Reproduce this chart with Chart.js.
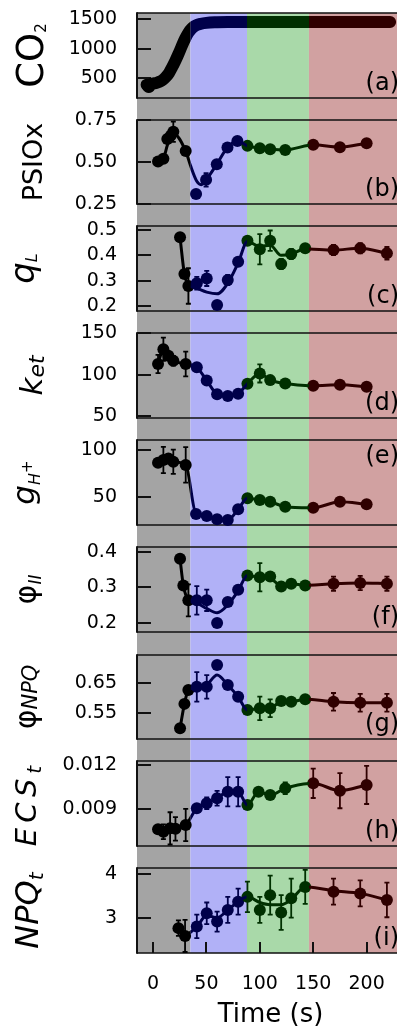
<!DOCTYPE html>
<html>
<head>
<meta charset="utf-8">
<title>Induction phases</title>
<script src="https://cdn.jsdelivr.net/npm/chart.js@4.4.1/dist/chart.umd.min.js"></script>
<style>
  html, body { margin: 0; padding: 0; background: #fff; overflow: hidden; }
  #wrap { position: relative; width: 420px; height: 1031px; }
  #wrap canvas { position: absolute; left: 0; }
</style>
</head>
<body>
<div id="wrap"></div>
<script>
// phase boundaries (s) and colours: dark, low light, high light, recovery
const phaseEdges = [35, 88, 146];
const bandColors = ['#a4a4a4', '#b1b1f7', '#a9d9a9', '#d1a1a1'];
const markColors = ['#000000', '#00004a', '#003000', '#300000'];

const xMin = -15, xMax = 235;
const xTicks = [0, 50, 100, 150, 200];

// (a) CO2 trace
const co2T = [-6, -4, -2, 0, 3, 6, 9, 12, 15, 18, 21, 24, 27, 30, 33, 36, 40, 45, 50, 60, 70, 90, 120, 150, 180, 222];
const co2V = [390, 350, 395, 410, 420, 440, 470, 520, 590, 690, 800, 920, 1050, 1170, 1270, 1340, 1395, 1425, 1440, 1450, 1455, 1455, 1455, 1455, 1455, 1455];
const co2Ticks = [500, 1000, 1500];
const co2Labels = ['500', '1000', '1500'];

// (b) PSIOx
const psiT = [4.7, 9.7, 13.4, 16.6, 19, 30.6, 40.3, 49.7, 59.7, 69.7, 79, 88.4, 100, 109.7, 123.8, 150, 175, 200];
const psiV = [0.503, 0.52, 0.637, 0.657, 0.68, 0.565, 0.309, 0.394, 0.487, 0.586, 0.625, 0.596, 0.582, 0.576, 0.572, 0.602, 0.588, 0.612];
const psiE = [0, 0, 0, 0.02, 0.06, 0, 0, 0.04, 0, 0, 0, 0, 0, 0, 0, 0, 0, 0];
const psiFitT = [4.7, 9.7, 13.4, 16.6, 19, 30.6, 35, 41, 45, 49.7, 59.7, 69.7, 79, 88.4, 100, 109.7, 123.8, 150, 175, 200];
const psiFitV = [0.503, 0.52, 0.6, 0.65, 0.67, 0.565, 0.48, 0.385, 0.365, 0.394, 0.487, 0.586, 0.625, 0.596, 0.582, 0.576, 0.572, 0.602, 0.588, 0.612];
const psiTicks = [0.25, 0.5, 0.75];
const psiLabels = ['0.25', '0.50', '0.75'];

// (c) qL
const qlT = [25.3, 29.4, 33.1, 41, 50.3, 60, 70, 79.7, 88.4, 100, 109.7, 120, 129.4, 142.5, 169, 194, 219];
const qlV = [0.471, 0.326, 0.279, 0.29, 0.309, 0.204, 0.303, 0.375, 0.458, 0.424, 0.458, 0.366, 0.405, 0.428, 0.421, 0.428, 0.408];
const qlE = [0, 0, 0.07, 0.025, 0.03, 0, 0.02, 0.015, 0, 0.06, 0.04, 0.02, 0.02, 0, 0.02, 0.02, 0.025];
const qlFitV = [0.471, 0.326, 0.285, 0.27, 0.255, 0.248, 0.29, 0.37, 0.455, 0.435, 0.44, 0.4, 0.405, 0.425, 0.421, 0.428, 0.408];
const qlTicks = [0.2, 0.3, 0.4, 0.5];
const qlLabels = ['0.2', '0.3', '0.4', '0.5'];

// (d) ket
const ketT = [4.7, 9.7, 14.4, 19, 30.6, 41, 50.3, 60, 70, 79.7, 88.4, 100, 109.7, 123.8, 150, 175, 200];
const ketV = [113, 131, 123, 117, 113, 109, 93, 76.5, 74.4, 77, 89, 101.6, 93.5, 89.4, 86.6, 87.8, 85.4];
const ketE = [11, 14, 0, 6, 15, 5, 0, 0, 0, 0, 0, 11, 5, 0, 0, 0, 0];
const ketTicks = [50, 100, 150];
const ketLabels = ['50', '100', '150'];

// (e) gH+
const ghT = [4.7, 9.7, 14.4, 19, 30.6, 40.3, 50.3, 60, 70, 79.7, 88.4, 100, 109.7, 123.8, 150, 175, 200];
const ghV = [86.4, 89.3, 91, 87.5, 84, 31.5, 29.3, 25.8, 25, 36.5, 48.3, 46.4, 44.6, 39.3, 38.2, 44.6, 41.9];
const ghE = [0, 14, 0, 13, 19, 0, 0, 0, 0, 0, 0, 0, 0, 0, 0, 3, 0];
const ghTicks = [50, 100];
const ghLabels = ['50', '100'];

// (f) phi II
const phiT = [25.3, 28.4, 33.1, 41, 50.3, 60, 70, 79.7, 88.4, 100, 109.7, 120, 129.4, 142.5, 169, 194, 219];
const phiV = [0.38, 0.305, 0.263, 0.263, 0.263, 0.199, 0.258, 0.293, 0.333, 0.328, 0.33, 0.302, 0.31, 0.305, 0.31, 0.312, 0.31];
const phiE = [0, 0, 0.045, 0.04, 0.03, 0, 0, 0, 0, 0.04, 0, 0, 0, 0, 0.02, 0.02, 0.02];
const phiFitV = [0.38, 0.305, 0.265, 0.255, 0.24, 0.228, 0.25, 0.29, 0.333, 0.328, 0.325, 0.305, 0.31, 0.305, 0.31, 0.312, 0.31];
const phiTicks = [0.2, 0.3, 0.4];
const phiLabels = ['0.2', '0.3', '0.4'];

// (g) phi NPQ
const npqPhiT = [25.3, 29.4, 33.1, 41, 50.3, 60, 70, 79.7, 88.4, 100, 109.7, 120, 129.4, 142.5, 169, 194, 219];
const npqPhiV = [0.497, 0.58, 0.627, 0.638, 0.638, 0.712, 0.644, 0.604, 0.559, 0.565, 0.565, 0.59, 0.587, 0.596, 0.587, 0.584, 0.584];
const npqPhiE = [0.01, 0, 0, 0.05, 0.04, 0, 0, 0, 0, 0.04, 0.03, 0, 0, 0, 0.03, 0.03, 0.03];
const npqPhiFitV = [0.497, 0.58, 0.627, 0.636, 0.645, 0.678, 0.644, 0.604, 0.559, 0.565, 0.565, 0.588, 0.587, 0.596, 0.587, 0.584, 0.584];
const npqPhiTicks = [0.55, 0.65];
const npqPhiLabels = ['0.55', '0.65'];

// (h) ECSt
const ecsT = [4.7, 9.7, 16, 21, 30.6, 41, 50.3, 60, 70, 79.7, 88.4, 98.8, 109.7, 123.8, 150, 175, 200];
const ecsV = [0.00762, 0.00745, 0.00768, 0.00765, 0.00791, 0.00905, 0.00939, 0.00973, 0.01018, 0.01018, 0.00927, 0.01018, 0.00995, 0.01041, 0.01075, 0.01025, 0.01064];
const ecsE = [0, 0.0005, 0.0011, 0.0008, 0.0011, 0, 0.0004, 0.0005, 0.001, 0.001, 0, 0, 0, 0.0004, 0.001, 0.0012, 0.0013];
const ecsTicks = [0.009, 0.012];
const ecsLabels = ['0.009', '0.012'];

// (i) NPQt
const npqT = [23.8, 30, 41, 50.3, 60, 70, 79.7, 88.4, 100, 109.7, 120, 129.4, 142.5, 169, 194, 219];
const npqV = [2.76, 2.58, 2.8, 3.1, 2.91, 3.18, 3.37, 3.48, 3.18, 3.52, 3.12, 3.45, 3.71, 3.6, 3.56, 3.41];
const npqE = [0.18, 0.37, 0.27, 0.25, 0.23, 0.3, 0.3, 0.35, 0.3, 0.45, 0.4, 0.45, 0.39, 0.3, 0.3, 0.4];
const npqFitV = [2.76, 2.6, 2.8, 3.05, 3.0, 3.18, 3.37, 3.48, 3.35, 3.3, 3.3, 3.42, 3.71, 3.62, 3.56, 3.41];
const npqTicks = [3, 4];
const npqLabels = ['3', '4'];

// panel frames on the page (px)
const panelTop = [13, 120, 226, 333, 440, 547, 655, 761, 868];
const panelBot = [98, 204, 311, 418, 525, 632, 739, 846, 953];
const W = 420, AXIS_W = 137, RIGHT = 404;
const FONT = 'DejaVu Sans';

const panels = [
  { letter: '(a)', thick: true, lineT: co2T, lineV: co2V, min: 165, max: 1607, ticks: co2Ticks, labels: co2Labels,
    tx: 43, title: [['CO', '37px'], ['2', '15px', 3]] },
  { letter: '(b)', ptT: psiT, ptV: psiV, ptE: psiE, lineT: psiFitT, lineV: psiFitV, min: 0.25, max: 0.75, ticks: psiTicks, labels: psiLabels,
    tx: 42, title: [['PSIOx', '27px']] },
  { letter: '(c)', ptT: qlT, ptV: qlV, ptE: qlE, lineT: qlT, lineV: qlFitV, min: 0.1803, max: 0.5158, ticks: qlTicks, labels: qlLabels,
    tx: 34, title: [['q', 'italic 34px'], ['L', 'italic 16px', 3]] },
  { letter: '(d)', ptT: ketT, ptV: ketV, ptE: ketE, lineT: ketT, lineV: ketV, min: 47.6, max: 150.6, ticks: ketTicks, labels: ketLabels,
    tx: 42, title: [['k', 'italic 31px'], ['et', 'italic 22px', 2]] },
  { letter: '(e)', top: true, ptT: ghT, ptV: ghV, ptE: ghE, lineT: ghT, lineV: ghV, min: 19.7, max: 110.7, ticks: ghTicks, labels: ghLabels,
    tx: 34, title: [['g', 'italic 31px'], ['H', 'italic 16px', 6], ['+', '15px', -2]] },
  { letter: '(f)', ptT: phiT, ptV: phiV, ptE: phiE, lineT: phiT, lineV: phiFitV, min: 0.1738, max: 0.4132, ticks: phiTicks, labels: phiLabels,
    tx: 36, title: [['φ', '30px'], ['II', 'italic 17px', 5]] },
  { letter: '(g)', ptT: npqPhiT, ptV: npqPhiV, ptE: npqPhiE, lineT: npqPhiT, lineV: npqPhiFitV, min: 0.4606, max: 0.7462, ticks: npqPhiTicks, labels: npqPhiLabels,
    tx: 36, title: [['φ', '30px'], ['NPQ', 'italic 21px', 1]] },
  { letter: '(h)', ptT: ecsT, ptV: ecsV, ptE: ecsE, lineT: ecsT, lineV: ecsV, min: 0.006477, max: 0.012273, ticks: ecsTicks, labels: ecsLabels,
    tx: 36, ls: '5px', title: [['ECS', 'italic 29px'], ['t', 'italic 20px', 5]] },
  { letter: '(i)', ptT: npqT, ptV: npqV, ptE: npqE, lineT: npqT, lineV: npqFitV, min: 2.187, max: 4.145, ticks: npqTicks, labels: npqLabels,
    tx: 38, title: [['NPQ', 'italic 32px'], ['t', 'italic 20px', 5]] }
];

const xy = (ts, vs) => ts.map((t, i) => ({ x: t, y: vs[i] }));
const phaseOf = t => t < phaseEdges[0] ? 0 : t < phaseEdges[1] ? 1 : t < phaseEdges[2] ? 2 : 3;

const panelPlugin = {
  id: 'panel',
  beforeDraw(chart) {
    const { ctx, chartArea: a, scales: { x } } = chart;
    const o = chart.options.plugins.panel;
    const y0 = o.first ? a.top : 0;
    const y1 = o.last ? a.bottom : chart.height;
    const edges = [a.left, ...phaseEdges.map(t => x.getPixelForValue(t)), a.right];
    for (let i = 0; i < 4; i++) {
      ctx.fillStyle = bandColors[i];
      ctx.fillRect(edges[i], y0, edges[i + 1] - edges[i], y1 - y0);
    }
  },
  beforeDatasetsDraw(chart) {
    const { ctx, chartArea: a, scales: { x, y } } = chart;
    const o = chart.options.plugins.panel;
    ctx.save();
    ctx.strokeStyle = '#111';
    ctx.lineWidth = 1.4;
    ctx.beginPath();
    ctx.moveTo(a.right + 5, a.top); ctx.lineTo(a.left, a.top);
    ctx.moveTo(a.left, a.bottom); ctx.lineTo(a.right + 5, a.bottom);
    ctx.stroke();
    ctx.lineWidth = 2;
    ctx.beginPath();
    ctx.moveTo(a.left, a.top - 0.7); ctx.lineTo(a.left, a.bottom + 0.7);
    y.ticks.forEach(t => {
      const py = Math.round(y.getPixelForValue(t.value));
      ctx.moveTo(a.left, py); ctx.lineTo(a.left + 14, py);
    });
    if (o.last) {
      x.ticks.forEach(t => {
        const px = Math.round(x.getPixelForValue(t.value));
        ctx.moveTo(px, a.bottom); ctx.lineTo(px, a.bottom - 11);
      });
    }
    ctx.stroke();
    ctx.restore();
  },
  beforeDatasetDraw(chart, args) {
    const ds = chart.data.datasets[args.index];
    if (ds.phase === undefined) return;
    const { ctx, scales: { x } } = chart;
    const lo = ds.phase === 0 ? 0 : x.getPixelForValue(phaseEdges[ds.phase - 1]);
    const hi = ds.phase === 3 ? chart.width : x.getPixelForValue(phaseEdges[ds.phase]);
    ctx.save();
    ctx.beginPath();
    ctx.rect(lo, 0, hi - lo, chart.height);
    ctx.clip();
  },
  afterDatasetDraw(chart, args) {
    if (chart.data.datasets[args.index].phase !== undefined) chart.ctx.restore();
  },
  afterDatasetsDraw(chart) {
    const { ctx, scales: { y } } = chart;
    chart.data.datasets.forEach((ds, di) => {
      if (!ds.errors) return;
      const meta = chart.getDatasetMeta(di);
      ctx.save();
      ctx.lineWidth = 1.8;
      ds.data.forEach((p, i) => {
        const e = ds.errors[i];
        if (!e) return;
        const px = meta.data[i].x;
        const hi = y.getPixelForValue(p.y + e), lo = y.getPixelForValue(p.y - e);
        ctx.strokeStyle = markColors[phaseOf(p.x)];
        ctx.beginPath();
        ctx.moveTo(px, hi); ctx.lineTo(px, lo);
        ctx.moveTo(px - 2.5, hi); ctx.lineTo(px + 2.5, hi);
        ctx.moveTo(px - 2.5, lo); ctx.lineTo(px + 2.5, lo);
        ctx.stroke();
      });
      ctx.restore();
    });
  },
  afterDraw(chart) {
    const { ctx, chartArea: a } = chart;
    const spec = chart.options.plugins.panel.spec;
    ctx.save();
    ctx.fillStyle = '#000';
    // panel letter
    ctx.font = '24px "' + FONT + '"';
    ctx.textAlign = 'right';
    ctx.textBaseline = 'alphabetic';
    ctx.fillText(spec.letter, a.right - 5, spec.top ? a.top + 23 : a.bottom - 8);
    // rotated axis title with subscripts
    ctx.translate(spec.tx, (a.top + a.bottom) / 2);
    ctx.rotate(-Math.PI / 2);
    ctx.textAlign = 'left';
    if (spec.ls && 'letterSpacing' in ctx) ctx.letterSpacing = spec.ls;
    let total = 0;
    const parts = spec.title.map(([txt, f, dy]) => {
      ctx.font = f + ' "' + FONT + '"';
      const w = ctx.measureText(txt).width;
      total += w;
      return { txt, f, dy: dy || 0, w };
    });
    let cx = -total / 2;
    parts.forEach(p => {
      ctx.font = p.f + ' "' + FONT + '"';
      ctx.fillText(p.txt, cx, p.dy);
      cx += p.w;
    });
    ctx.restore();
  }
};

const wrap = document.getElementById('wrap');

panels.forEach((spec, k) => {
  const first = k === 0, last = k === panels.length - 1;
  const top = first ? 0 : Math.round((panelBot[k - 1] + panelTop[k]) / 2);
  const bot = last ? 1031 : Math.round((panelBot[k] + panelTop[k + 1]) / 2);
  const cv = document.createElement('canvas');
  cv.width = W;
  cv.height = bot - top;
  cv.style.top = top + 'px';
  wrap.appendChild(cv);

  const lineData = xy(spec.lineT, spec.lineV);
  const datasets = [0, 1, 2, 3].map(ph => ({
    phase: ph,
    data: lineData,
    borderColor: markColors[ph],
    borderWidth: spec.thick ? 12 : 3,
    borderCapStyle: 'round',
    borderJoinStyle: 'round',
    cubicInterpolationMode: 'monotone',
    pointRadius: 0,
    clip: 8
  }));
  if (spec.ptT) {
    datasets.push({
      data: xy(spec.ptT, spec.ptV),
      errors: spec.ptE,
      showLine: false,
      pointRadius: 6,
      pointBorderWidth: 0,
      pointBackgroundColor: c => markColors[phaseOf(c.raw.x)],
      pointBorderColor: c => markColors[phaseOf(c.raw.x)],
      clip: 8
    });
  }

  new Chart(cv, {
    type: 'line',
    data: { datasets },
    options: {
      responsive: false,
      animation: false,
      devicePixelRatio: 1,
      events: [],
      layout: { autoPadding: false, padding: { top: panelTop[k] - top, bottom: last ? 0 : bot - panelBot[k], left: 0, right: W - RIGHT } },
      plugins: {
        legend: { display: false },
        tooltip: { enabled: false },
        panel: { first, last, spec }
      },
      scales: {
        x: {
          type: 'linear', min: xMin, max: xMax, display: last,
          afterBuildTicks: s => { s.ticks = xTicks.map(v => ({ value: v })); },
          afterFit: s => { if (s.options.display) s.height = 78; },
          // label offset comes from the (undrawn) tick length, not from tick padding
          grid: { display: false, drawTicks: true, tickLength: 22 },
          border: { display: false },
          ticks: { font: { family: FONT, size: 19, lineHeight: 1 }, color: '#000', padding: 0, maxRotation: 0, autoSkip: false },
          title: { display: true, text: 'Time (s)', color: '#000', padding: 0, font: { family: FONT, size: 26, lineHeight: 1.2 } }
        },
        y: {
          type: 'linear', min: spec.min, max: spec.max,
          afterBuildTicks: s => { s.ticks = spec.ticks.map(v => ({ value: v })); },
          afterFit: s => { s.width = AXIS_W; },
          grid: { display: false, drawTicks: true, tickLength: 20 },
          border: { display: false },
          ticks: {
            font: { family: FONT, size: 19, lineHeight: 1 }, color: '#000', padding: 0, autoSkip: false,
            callback: (v, i) => spec.labels[i]
          }
        }
      }
    },
    plugins: [panelPlugin]
  });
});
</script>
</body>
</html>
